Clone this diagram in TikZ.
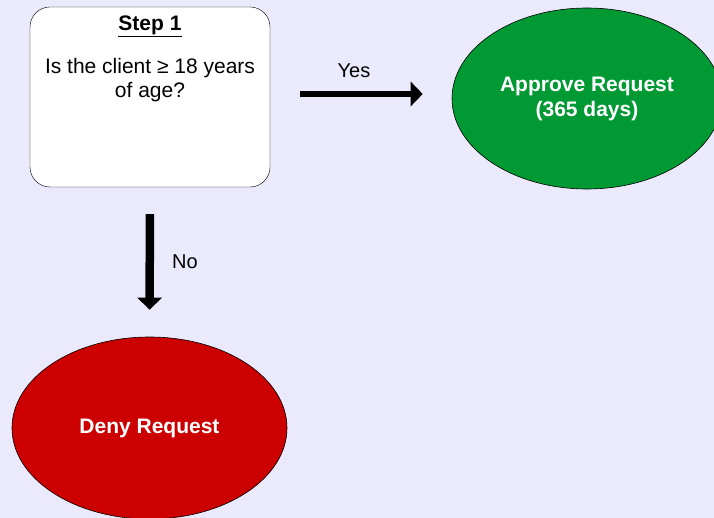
\documentclass[tikz,border=0pt]{standalone}
\usepackage{fontspec}
\setmainfont{Liberation Sans}
\usetikzlibrary{arrows.meta,shapes.geometric}

\definecolor{bglavender}{RGB}{234,234,252}
\definecolor{approvegreen}{RGB}{0,153,51}
\definecolor{denyred}{RGB}{204,0,0}

\tikzset{
  stepbox/.style={rectangle, draw=black, fill=white, rounded corners=20pt, minimum width=240pt, minimum height=180pt},
  outcome/.style={ellipse, draw=black, line width=0.6pt, text=white, font=\fontsize{21}{25}\selectfont\bfseries, align=center},
  flowarrow/.style={-{Triangle[length=12pt,width=24pt]}, line width=6pt},
  armlabel/.style={font=\fontsize{20}{24}\selectfont}
}

\begin{document}
\begin{tikzpicture}[x=1pt, y=-1pt]
  \fill[bglavender] (0,0) rectangle (714,518);
  \useasboundingbox (0,0) rectangle (714,518);

  % question box
  \node[stepbox] (step) at (150,97) {};
  \node[anchor=north, inner sep=0pt, align=center, font=\fontsize{21}{24}\selectfont] (question) at ([yshift=-9pt]step.north) {
    \underline{\textbf{Step 1}}\\[19pt]
    Is the client ≥ 18 years\\
    of age?
  };

  % outcomes
  \node[outcome, fill=approvegreen, minimum width=270pt, minimum height=181pt] (approve) at (587,98.5) {Approve Request\\(365 days)};
  \node[outcome, fill=denyred, minimum width=275pt, minimum height=182pt] (deny) at (149.5,428) {Deny Request};

  % arrows
  \draw[flowarrow, shorten <=30pt, shorten >=29pt] ([yshift=3pt]step.east) -- ([yshift=3pt]step.east -| approve.west);
  \node[armlabel] (yes) at (354,71) {Yes};
  \draw[flowarrow, line width=8.5pt, shorten <=27pt, shorten >=27pt] (step.south) -- (deny.north);
  \node[armlabel] (no) at (185,262) {No};
\end{tikzpicture}
\end{document}
